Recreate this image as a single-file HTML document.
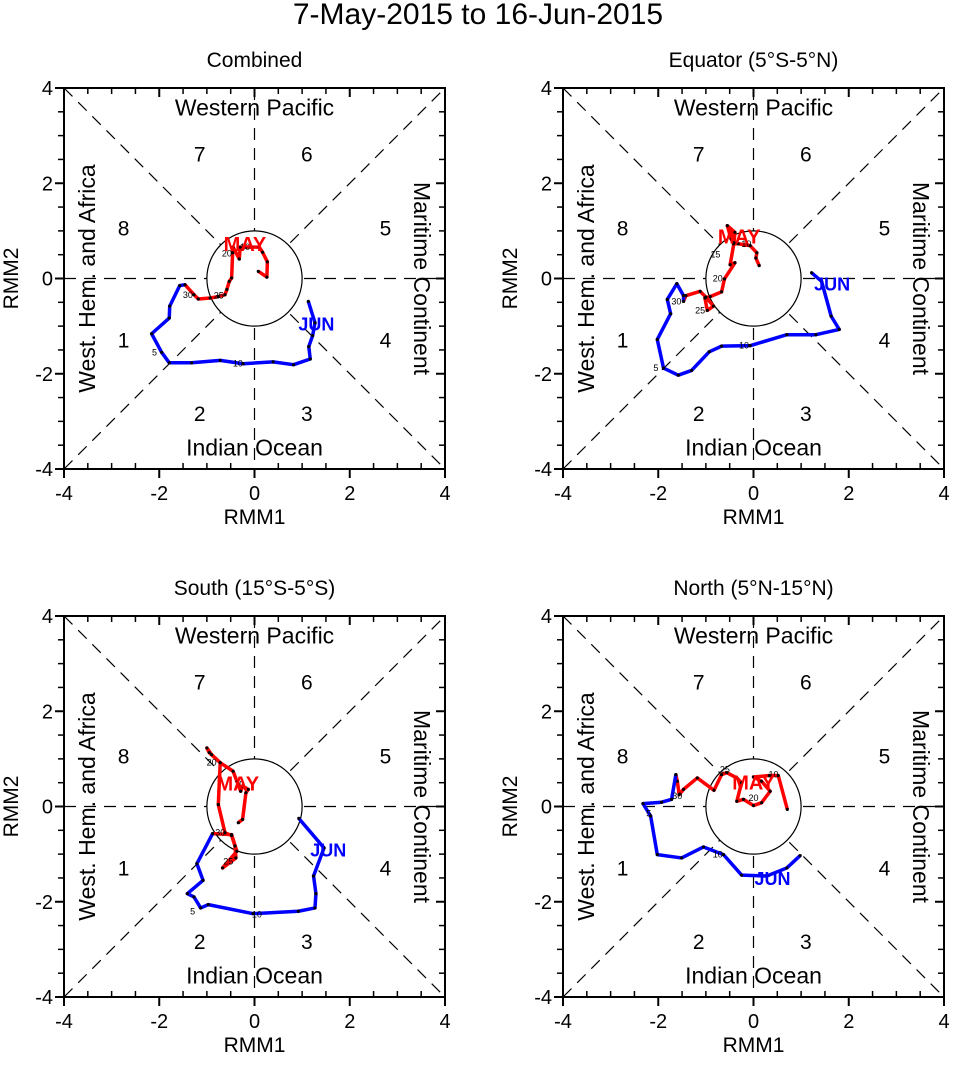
<!DOCTYPE html>
<html><head><meta charset="utf-8"><style>
body{margin:0;background:#fff}
svg text{font-family:"Liberation Sans",sans-serif}
</style></head><body>
<svg id="fig" width="956" height="1060" viewBox="0 0 956 1060" xmlns="http://www.w3.org/2000/svg">
<rect width="956" height="1060" fill="#fff"/>
<text x="478" y="24" font-size="30" text-anchor="middle">7-May-2015 to 16-Jun-2015</text>
</svg>
<script>
// Panel data (RMM1, RMM2)
const p1RedX=[0.08,0.26,0.27,0.17,0.10,-0.06,-0.18,-0.30,-0.32,-0.45,-0.46,-0.48,-0.53,-0.58,-0.62,-0.76,-0.93,-1.18,-1.27,-1.46];
const p1RedY=[0.15,0.03,0.35,0.55,0.66,0.66,0.66,0.66,0.41,0.66,0.54,0.01,-0.06,-0.23,-0.34,-0.38,-0.41,-0.43,-0.34,-0.13];
const p1BlueX=[-1.46,-1.57,-1.78,-1.79,-2.16,-1.95,-1.79,-1.32,-0.72,-0.24,0.39,0.82,1.17,1.14,1.22,1.27,1.13];
const p1BlueY=[-0.13,-0.15,-0.58,-0.83,-1.16,-1.55,-1.77,-1.77,-1.72,-1.79,-1.75,-1.81,-1.69,-1.43,-1.20,-0.93,-0.48];
const p2RedX=[0.12,0.05,0.07,-0.07,-0.32,-0.42,-0.47,-0.55,-0.39,-0.41,-0.49,-0.39,-0.61,-0.67,-0.91,-1.02,-0.97,-0.84,-1.00,-1.12,-1.42,-1.47];
const p2RedY=[0.27,0.43,0.54,0.69,0.73,0.73,0.83,1.11,0.97,0.75,0.29,0.33,-0.01,-0.28,-0.38,-0.41,-0.67,-0.58,-0.39,-0.27,-0.36,-0.48];
const p2BlueX=[-1.47,-1.47,-1.61,-1.81,-1.74,-2.02,-1.89,-1.58,-1.30,-0.93,-0.67,-0.07,0.70,1.31,1.80,1.63,1.43,1.22];
const p2BlueY=[-0.48,-0.36,-0.11,-0.44,-0.74,-1.28,-1.88,-2.03,-1.93,-1.54,-1.42,-1.41,-1.18,-1.18,-1.07,-0.79,-0.06,0.12];
const p3RedX=[-0.34,-0.25,-0.18,-0.13,-0.25,-0.29,-0.45,-0.72,-0.95,-1.00,-0.90,-0.72,-0.76,-0.62,-0.48,-0.41,-0.39,-0.67,-0.37,-0.48,-0.88];
const p3RedY=[-0.34,-0.27,0.29,0.36,0.43,0.32,0.74,0.92,1.13,1.23,1.09,0.92,0.04,-0.55,-0.61,-0.83,-1.08,-1.29,-0.94,-0.59,-0.57];
const p3BlueX=[-0.88,-1.21,-1.08,-1.41,-1.27,-1.13,-0.97,-0.03,0.92,1.27,1.29,1.24,1.46,0.93];
const p3BlueY=[-0.57,-1.20,-1.55,-1.83,-1.90,-2.13,-2.06,-2.25,-2.20,-2.13,-1.83,-1.46,-0.87,-0.25];
const p4RedX=[0.71,0.52,0.33,0.00,0.17,0.35,0.17,0.00,-0.21,-0.35,-0.25,-0.35,-0.56,-0.67,-0.83,-1.18,-1.47,-1.56,-1.60,-1.63];
const p4RedY=[-0.06,0.65,0.65,0.62,0.53,0.32,0.08,0.02,0.15,0.11,0.50,0.60,0.71,0.67,0.34,0.60,0.36,0.25,0.53,0.67];
const p4BlueX=[-1.63,-1.72,-1.93,-2.32,-2.16,-2.02,-1.51,-1.05,-0.63,-0.25,0.28,0.70,0.98];
const p4BlueY=[0.67,0.15,0.09,0.06,-0.20,-1.01,-1.08,-0.85,-1.01,-1.44,-1.46,-1.29,-1.03];
// day labels: [x, y, text]
const p1Days=[[-0.2,0.66,"10"],[-0.58,0.52,"20"],[-0.75,-0.36,"25"],[-1.4,-0.35,"30"],[-2.1,-1.55,"5"],[-0.35,-1.79,"10"]];
const p2Days=[[-0.15,0.72,"10"],[-0.8,0.5,"15"],[-0.75,0.0,"20"],[-1.12,-0.67,"25"],[-1.62,-0.48,"30"],[-2.05,-1.88,"5"],[-0.2,-1.41,"10"]];
const p3Days=[[-0.32,0.47,"10"],[-0.9,0.92,"20"],[-0.55,-1.15,"25"],[-0.72,-0.55,"30"],[-1.3,-2.2,"5"],[0.05,-2.27,"10"]];
const p4Days=[[0.42,0.67,"10"],[0.0,0.18,"20"],[-0.6,0.78,"25"],[-1.6,0.22,"30"],[-2.2,-0.15,"5"],[-0.75,-1.01,"10"]];
const ticks=[-4,-2,0,2,4];

const NS="http://www.w3.org/2000/svg";
const svg=document.getElementById('fig');
function mk(tag,attrs,parent,txt){const e=document.createElementNS(NS,tag);for(const k in attrs)e.setAttribute(k,attrs[k]);if(txt!==undefined)e.textContent=txt;(parent||svg).appendChild(e);return e;}

const panels=[
 {title:"Combined",x0:64,y0:88,rx:p1RedX,ry:p1RedY,bx:p1BlueX,by:p1BlueY,days:p1Days,may:[-0.2,0.75],jun:[1.3,-0.95]},
 {title:"Equator (5°S-5°N)",x0:563,y0:88,rx:p2RedX,ry:p2RedY,bx:p2BlueX,by:p2BlueY,days:p2Days,may:[-0.3,0.9],jun:[1.65,-0.1]},
 {title:"South (15°S-5°S)",x0:64,y0:616,rx:p3RedX,ry:p3RedY,bx:p3BlueX,by:p3BlueY,days:p3Days,may:[-0.35,0.5],jun:[1.55,-0.9]},
 {title:"North (5°N-15°N)",x0:563,y0:616,rx:p4RedX,ry:p4RedY,bx:p4BlueX,by:p4BlueY,days:p4Days,may:[0.0,0.52],jun:[0.4,-1.5]}
];
const W=381;
panels.forEach((p,i)=>{
 const g=mk('g',{});
 
 
 const sx=v=>p.x0+(v+4)/8*W, sy=v=>p.y0+(4-v)/8*W;
 const cx=sx(0),cy=sy(0);
 const t=mk('text',{x:cx,y:p.y0-21,'font-size':21,'text-anchor':'middle'},g,p.title);
 
 
 const d={stroke:'#000','stroke-width':1.2,'stroke-dasharray':'12 8',fill:'none'};
 mk('line',Object.assign({x1:sx(-4),y1:sy(4),x2:sx(4),y2:sy(-4)},d),g);
 mk('line',Object.assign({x1:sx(-4),y1:sy(-4),x2:sx(4),y2:sy(4)},d),g);
 mk('line',Object.assign({x1:sx(-4),y1:cy,x2:sx(4),y2:cy},d),g);
 mk('line',Object.assign({x1:cx,y1:sy(4),x2:cx,y2:sy(-4)},d),g);
 mk('circle',{cx:cx,cy:cy,r:W/8,fill:'#fff',stroke:'#000','stroke-width':1.2},g);
 mk('rect',{x:p.x0,y:p.y0,width:W,height:W,fill:'none',stroke:'#000','stroke-width':2},g);
 for(let v=-4;v<=4.001;v+=0.5){
  const major=Math.abs(v-Math.round(v/2)*2)<1e-6;
  const X=sx(v),Y=sy(v);
  if(major){
   mk('line',{x1:X,y1:p.y0+W,x2:X,y2:p.y0+W+9,stroke:'#000','stroke-width':2},g);
   mk('line',{x1:p.x0-9,y1:Y,x2:p.x0,y2:Y,stroke:'#000','stroke-width':2},g);
   mk('line',{x1:X,y1:p.y0,x2:X,y2:p.y0+9,stroke:'#000','stroke-width':2},g);
   mk('line',{x1:p.x0+W,y1:Y,x2:p.x0+W-9,y2:Y,stroke:'#000','stroke-width':2},g);
  }else{
   mk('line',{x1:X,y1:p.y0+W,x2:X,y2:p.y0+W-6,stroke:'#000','stroke-width':1.5},g);
   mk('line',{x1:p.x0-6,y1:Y,x2:p.x0,y2:Y,stroke:'#000','stroke-width':1.5},g);
   mk('line',{x1:X,y1:p.y0,x2:X,y2:p.y0+6,stroke:'#000','stroke-width':1.5},g);
   mk('line',{x1:p.x0+W,y1:Y,x2:p.x0+W-6,y2:Y,stroke:'#000','stroke-width':1.5},g);
  }
 }
 ticks.forEach(v=>{
  const a=mk('text',{x:sx(v),y:p.y0+W+31,'font-size':20,'text-anchor':'middle'},g,String(v));
  
  
  const b=mk('text',{x:p.x0-11,y:sy(v)+7,'font-size':20,'text-anchor':'end'},g,String(v));
  
  
 });
 const xl=mk('text',{x:cx,y:p.y0+W+55,'font-size':21,'text-anchor':'middle'},g,'RMM1');
 
 
 const yl=mk('text',{x:0,y:0,'font-size':21,'text-anchor':'middle',transform:`translate(${p.x0-46},${cy}) rotate(-90)`},g,'RMM2');
 
 
 const lab=(x,y,s,rot,name)=>{const e=mk('text',{x:0,y:0,'font-size':23,'text-anchor':'middle',transform:`translate(${x},${y})`+(rot?` rotate(${rot})`:'')},g,s);};
 lab(cx,sy(3.42),'Western Pacific',0,'region-western-pacific');
 lab(cx,sy(-3.72),'Indian Ocean',0,'region-indian-ocean');
 lab(sx(-3.35),cy,'West. Hem. and Africa',-90,'region-west-hem-africa');
 lab(sx(3.35),cy,'Maritime Continent',90,'region-maritime-continent');
 [[ -1.15,2.6,'7'],[1.1,2.6,'6'],[2.75,1.05,'5'],[2.75,-1.3,'4'],[1.1,-2.85,'3'],[-1.15,-2.85,'2'],[-2.75,-1.3,'1'],[-2.75,1.05,'8']].forEach(q=>{
  const e=mk('text',{x:sx(q[0]),y:sy(q[1])+7,'font-size':21,'text-anchor':'middle'},g,q[2]);
  
  
 });
 const line=(xs,ys,col,name)=>{
  const pts=xs.map((v,k)=>sx(v)+','+sy(ys[k])).join(' ');
  const pl=mk('polyline',{points:pts,fill:'none',stroke:col,'stroke-width':3.5,'stroke-linejoin':'round'},g);
  
  
  xs.forEach((v,k)=>{const c=mk('circle',{cx:sx(v),cy:sy(ys[k]),r:1.6,fill:'#000'},g);
   
   });
 };
 line(p.rx,p.ry,'#ff0000','may-trajectory');
 line(p.bx,p.by,'#0000ff','june-trajectory');
 p.days.forEach(dd=>{const e=mk('text',{x:sx(dd[0]),y:sy(dd[1])+3,'font-size':9,'text-anchor':'middle'},g,dd[2]);
  
  });
 const m=mk('text',{x:sx(p.may[0]),y:sy(p.may[1])+8,'font-size':20,'font-weight':'bold',fill:'#ff0000','text-anchor':'middle'},g,'MAY');
 
 
 const j=mk('text',{x:sx(p.jun[0]),y:sy(p.jun[1])+7,'font-size':18,'font-weight':'bold',fill:'#0000ff','text-anchor':'middle'},g,'JUN');
 
 
});
</script>
</body></html>
